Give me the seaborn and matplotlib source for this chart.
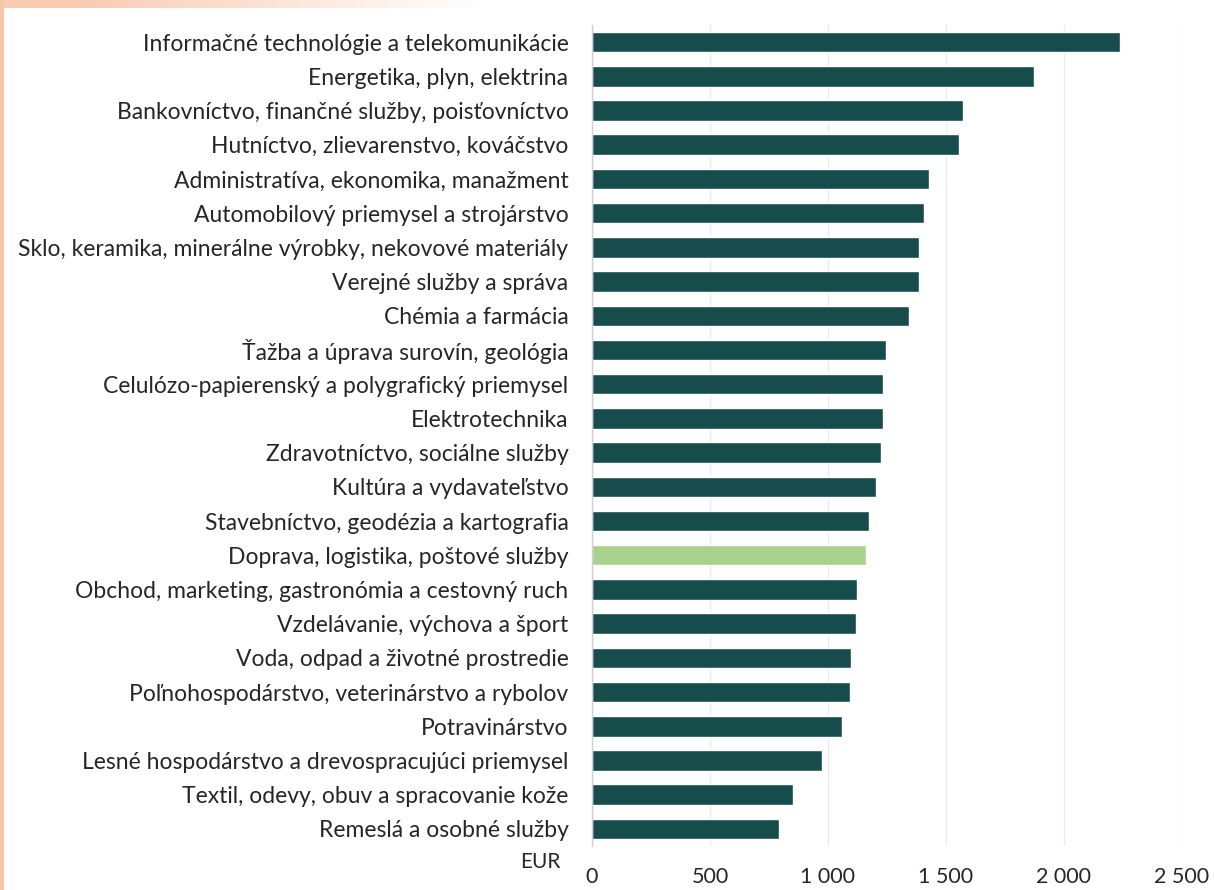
import numpy as np
import pandas as pd
import matplotlib
matplotlib.use("Agg")
import matplotlib.pyplot as plt
from matplotlib.patches import Rectangle
import seaborn as sns

# Average monthly wage by sector (EUR)
sectors = [
    "Informačné technológie a telekomunikácie",
    "Energetika, plyn, elektrina",
    "Bankovníctvo, finančné služby, poisťovníctvo",
    "Hutníctvo, zlievarenstvo, kováčstvo",
    "Administratíva, ekonomika, manažment",
    "Automobilový priemysel a strojárstvo",
    "Sklo, keramika, minerálne výrobky, nekovové materiály",
    "Verejné služby a správa",
    "Chémia a farmácia",
    "Ťažba a úprava surovín, geológia",
    "Celulózo-papierenský a polygrafický priemysel",
    "Elektrotechnika",
    "Zdravotníctvo, sociálne služby",
    "Kultúra a vydavateľstvo",
    "Stavebníctvo, geodézia a kartografia",
    "Doprava, logistika, poštové služby",
    "Obchod, marketing, gastronómia a cestovný ruch",
    "Vzdelávanie, výchova a šport",
    "Voda, odpad a životné prostredie",
    "Poľnohospodárstvo, veterinárstvo a rybolov",
    "Potravinárstvo",
    "Lesné hospodárstvo a drevospracujúci priemysel",
    "Textil, odevy, obuv a spracovanie kože",
    "Remeslá a osobné služby",
]
wages = [2237, 1873, 1572, 1555, 1428, 1407, 1386, 1384, 1343, 1246, 1233, 1232,
         1225, 1203, 1174, 1161, 1123, 1118, 1097, 1093, 1059, 975, 852, 792]
highlight = "Doprava, logistika, poštové služby"
x_ticks = [0, 500, 1000, 1500, 2000, 2500]
x_tick_labels = ["0", "500", "1 000", "1 500", "2 000", "2 500"]
unit_label = "EUR"

DARK = "#174c4c"
LIGHT = "#a9d18e"
TEXT = "#262626"

df = pd.DataFrame({"sector": sectors, "wage": wages})
palette = {s: (LIGHT if s == highlight else DARK) for s in sectors}

sns.set_theme(style="white")
plt.rcParams["font.family"] = ["Lato", "DejaVu Sans"]

fig = plt.figure(figsize=(12.14, 8.90), dpi=100)

# decorative page border: peach strips along the top and left edges
fig.patches.append(Rectangle((0, 0), 4 / 1214, 1, transform=fig.transFigure,
                             facecolor="#f9c7a8", edgecolor="none", zorder=0))
band = fig.add_axes([0, 1 - 8 / 890, 1, 8 / 890], zorder=0)
grad = np.linspace(0, 1, 600)
alpha = np.clip(1.2 - grad * 3.0, 0, 1)
rgba = np.zeros((1, 600, 4))
rgba[..., 0] = 0.98
rgba[..., 1] = 0.80
rgba[..., 2] = 0.70
rgba[..., 3] = alpha
band.imshow(rgba, aspect="auto", extent=[0, 1, 0, 1])
band.set_axis_off()

ax = fig.add_axes([592 / 1214, 1 - 846 / 890, (1182 - 592) / 1214, (846 - 25) / 890])
sns.barplot(data=df, x="wage", y="sector", hue="sector", palette=palette,
            legend=False, width=0.6, orient="h", saturation=1, ax=ax)

ax.set_xlim(0, 2500)
ax.set_ylim(len(sectors) - 0.5, -0.5)
ax.set_xticks(x_ticks)
ax.set_xticklabels(x_tick_labels)
ax.set_xlabel("")
ax.set_ylabel("")
ax.grid(axis="x", color="#ebebeb", linewidth=1.0)
ax.grid(axis="y", visible=False)
ax.set_axisbelow(True)
for side in ["top", "right", "bottom"]:
    ax.spines[side].set_visible(False)
ax.spines["left"].set_color("#cfcfcf")
ax.spines["left"].set_linewidth(1.0)
ax.tick_params(axis="y", length=0, pad=17, labelsize=16.5, labelcolor=TEXT)
ax.tick_params(axis="x", length=0, pad=15, labelsize=15.5, labelcolor=TEXT)

fig.text(540 / 1214, 1 - 862 / 890, unit_label, ha="center", va="center",
         fontsize=15, color=TEXT)

fig.savefig("out.png", dpi=100, facecolor="white")
